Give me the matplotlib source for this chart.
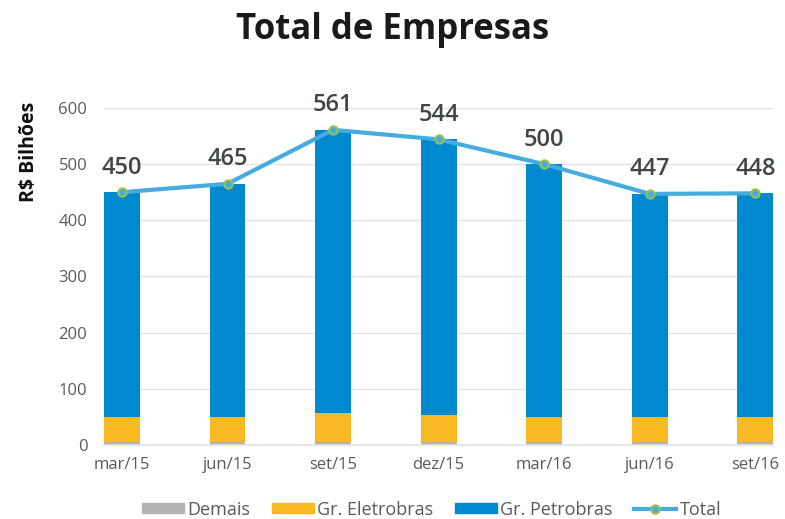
import matplotlib
matplotlib.use("Agg")
import matplotlib.pyplot as plt
import numpy as np
from matplotlib.lines import Line2D
from matplotlib.patches import Patch

periods = ["mar/15", "jun/15", "set/15", "dez/15", "mar/16", "jun/16", "set/16"]
total = [450, 465, 561, 544, 500, 447, 448]
demais = [5, 5, 5, 5, 5, 5, 5]
eletrobras = [45, 45, 52, 49, 45, 45, 45]
petrobras = [t - d - e for t, d, e in zip(total, demais, eletrobras)]
yticks = [0, 100, 200, 300, 400, 500, 600]

C_DEM = "#b3b3b3"
C_ELE = "#f9b923"
C_PET = "#0089cf"
C_TOT = "#45ace0"
C_MRK = "#9cc04a"
GREY = "#5a5a5a"
DARK = "#3f4644"

plt.rcParams["font.family"] = ["Open Sans", "DejaVu Sans"]

fig = plt.figure(figsize=(7.85, 5.19), dpi=100)
ax = fig.add_axes([0.1325, 0.1426, 0.8525, 0.6494])

x = np.arange(len(periods))
w = 0.34
ax.bar(x, demais, w, color=C_DEM, zorder=2)
ax.bar(x, eletrobras, w, bottom=demais, color=C_ELE, zorder=2)
bot2 = [d + e for d, e in zip(demais, eletrobras)]
ax.bar(x, petrobras, w, bottom=bot2, color=C_PET, zorder=2)
ax.plot(x, total, color=C_TOT, lw=3, zorder=3,
        marker="o", ms=6, mfc=C_TOT, mec=C_MRK, mew=1.5)

for xi, t in zip(x, total):
    ax.annotate(str(t), (xi, t), xytext=(0, 9), textcoords="offset points",
                ha="center", va="bottom", fontsize=17, color=DARK,
                fontweight="semibold", annotation_clip=False)

ax.set_xlim(-0.17, len(periods) - 1 + 0.17)
ax.set_ylim(0, 600)
ax.set_yticks(yticks)
ax.set_xticks(x)
ax.set_xticklabels(periods)
ax.tick_params(axis="both", length=0, labelsize=12, labelcolor=GREY)
ax.tick_params(axis="x", pad=9)
ax.tick_params(axis="y", pad=12)
ax.grid(axis="y", color="#e3e3e3", lw=1, zorder=0)
for s in ["top", "right", "left"]:
    ax.spines[s].set_visible(False)
ax.spines["bottom"].set_color("#e3e3e3")
ax.spines["bottom"].set_linewidth(1.2)

ax.set_ylabel("R$ Bilhões", fontsize=14, fontweight="bold", color="#111111")
ax.yaxis.set_label_coords(-0.097, 0.87)

fig.text(0.5, 0.943, "Total de Empresas", ha="center", va="center",
         fontsize=25, fontweight="bold", color="#1a1a1a")

handles = [Patch(color=C_DEM), Patch(color=C_ELE), Patch(color=C_PET),
           Line2D([0], [0], color=C_TOT, lw=3, marker="o", ms=6, mfc=C_TOT,
                  mec=C_MRK, mew=1.5)]
labels = ["Demais", "Gr. Eletrobras", "Gr. Petrobras", "Total"]
fig.legend(handles, labels, loc="center", bbox_to_anchor=(0.55, 0.018),
           ncol=4, frameon=False, fontsize=13, labelcolor=GREY,
           handlelength=2.3, handleheight=0.5, handletextpad=0.2,
           columnspacing=1.2)

fig.savefig("out.png", dpi=100, facecolor="white")
